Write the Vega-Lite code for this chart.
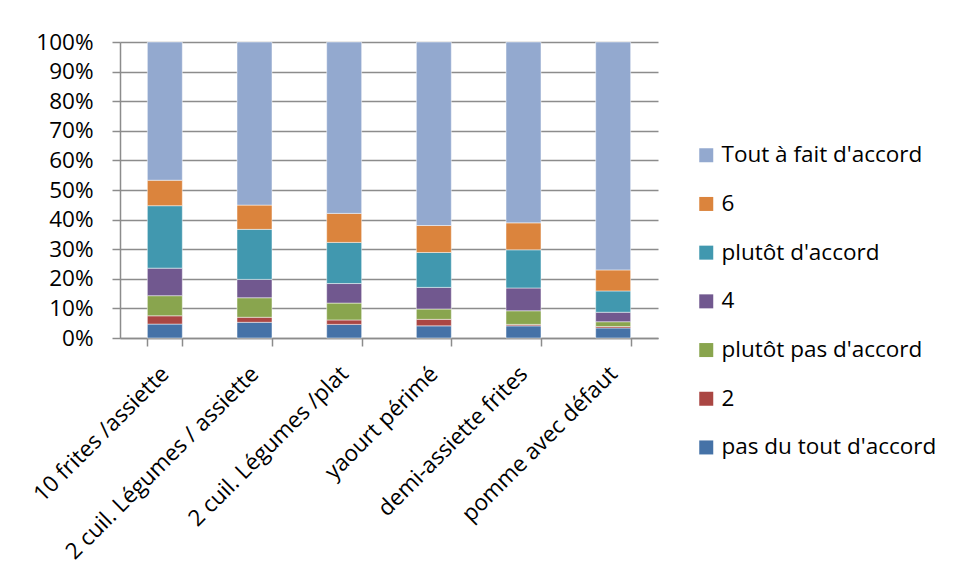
{
  "$schema": "https://vega.github.io/schema/vega-lite/v6.json",
  "autosize": "none",
  "width": 538,
  "height": 296,
  "padding": {"left": 120, "top": 42, "right": 299, "bottom": 243},
  "background": "#ffffff",
  "config": {
    "font": "Open Sans",
    "view": {"stroke": null},
    "axis": {
      "domainColor": "#8c8c8c",
      "domainWidth": 1.5,
      "tickColor": "#8c8c8c",
      "tickWidth": 1.5,
      "tickSize": 8,
      "labelColor": "#000000",
      "labelFontSize": 22.5,
      "labelOverlap": false,
      "labelFlush": false,
      "labelLimit": 400,
      "gridColor": "#8c8c8c",
      "gridWidth": 1.5
    }
  },
  "data": {
    "values": [
      {"item": "10 frites /assiette", "level": 1, "answer": "pas du tout d'accord", "pct": 4.7},
      {"item": "10 frites /assiette", "level": 2, "answer": "2", "pct": 2.8},
      {"item": "10 frites /assiette", "level": 3, "answer": "plutôt pas d'accord", "pct": 6.8},
      {"item": "10 frites /assiette", "level": 4, "answer": "4", "pct": 9.3},
      {"item": "10 frites /assiette", "level": 5, "answer": "plutôt d'accord", "pct": 21.1},
      {"item": "10 frites /assiette", "level": 6, "answer": "6", "pct": 8.6},
      {"item": "10 frites /assiette", "level": 7, "answer": "Tout à fait d'accord", "pct": 46.7},

      {"item": "2 cuil. Légumes / assiette", "level": 1, "answer": "pas du tout d'accord", "pct": 5.3},
      {"item": "2 cuil. Légumes / assiette", "level": 2, "answer": "2", "pct": 1.7},
      {"item": "2 cuil. Légumes / assiette", "level": 3, "answer": "plutôt pas d'accord", "pct": 6.6},
      {"item": "2 cuil. Légumes / assiette", "level": 4, "answer": "4", "pct": 6.2},
      {"item": "2 cuil. Légumes / assiette", "level": 5, "answer": "plutôt d'accord", "pct": 16.9},
      {"item": "2 cuil. Légumes / assiette", "level": 6, "answer": "6", "pct": 8.2},
      {"item": "2 cuil. Légumes / assiette", "level": 7, "answer": "Tout à fait d'accord", "pct": 55.1},

      {"item": "2 cuil. Légumes /plat", "level": 1, "answer": "pas du tout d'accord", "pct": 4.6},
      {"item": "2 cuil. Légumes /plat", "level": 2, "answer": "2", "pct": 1.5},
      {"item": "2 cuil. Légumes /plat", "level": 3, "answer": "plutôt pas d'accord", "pct": 5.7},
      {"item": "2 cuil. Légumes /plat", "level": 4, "answer": "4", "pct": 6.6},
      {"item": "2 cuil. Légumes /plat", "level": 5, "answer": "plutôt d'accord", "pct": 13.9},
      {"item": "2 cuil. Légumes /plat", "level": 6, "answer": "6", "pct": 9.8},
      {"item": "2 cuil. Légumes /plat", "level": 7, "answer": "Tout à fait d'accord", "pct": 57.9},

      {"item": "yaourt périmé", "level": 1, "answer": "pas du tout d'accord", "pct": 4.1},
      {"item": "yaourt périmé", "level": 2, "answer": "2", "pct": 2.2},
      {"item": "yaourt périmé", "level": 3, "answer": "plutôt pas d'accord", "pct": 3.5},
      {"item": "yaourt périmé", "level": 4, "answer": "4", "pct": 7.3},
      {"item": "yaourt périmé", "level": 5, "answer": "plutôt d'accord", "pct": 11.8},
      {"item": "yaourt périmé", "level": 6, "answer": "6", "pct": 9.1},
      {"item": "yaourt périmé", "level": 7, "answer": "Tout à fait d'accord", "pct": 62.0},

      {"item": "demi-assiette frites", "level": 1, "answer": "pas du tout d'accord", "pct": 4.1},
      {"item": "demi-assiette frites", "level": 2, "answer": "2", "pct": 0.5},
      {"item": "demi-assiette frites", "level": 3, "answer": "plutôt pas d'accord", "pct": 4.6},
      {"item": "demi-assiette frites", "level": 4, "answer": "4", "pct": 7.7},
      {"item": "demi-assiette frites", "level": 5, "answer": "plutôt d'accord", "pct": 12.9},
      {"item": "demi-assiette frites", "level": 6, "answer": "6", "pct": 9.1},
      {"item": "demi-assiette frites", "level": 7, "answer": "Tout à fait d'accord", "pct": 61.1},

      {"item": "pomme avec défaut", "level": 1, "answer": "pas du tout d'accord", "pct": 3.4},
      {"item": "pomme avec défaut", "level": 2, "answer": "2", "pct": 0.5},
      {"item": "pomme avec défaut", "level": 3, "answer": "plutôt pas d'accord", "pct": 1.6},
      {"item": "pomme avec défaut", "level": 4, "answer": "4", "pct": 3.2},
      {"item": "pomme avec défaut", "level": 5, "answer": "plutôt d'accord", "pct": 7.2},
      {"item": "pomme avec défaut", "level": 6, "answer": "6", "pct": 7.1},
      {"item": "pomme avec défaut", "level": 7, "answer": "Tout à fait d'accord", "pct": 77.0}
    ]
  },
  "mark": {"type": "bar", "stroke": "#ffffff", "strokeWidth": 0.8, "strokeOpacity": 0.6},
  "encoding": {
    "x": {
      "field": "item",
      "type": "nominal",
      "sort": null,
      "title": null,
      "scale": {"paddingInner": 0.61, "paddingOuter": 0.305},
      "axis": {
        "labelAngle": -45,
        "labelAlign": "right",
        "labelBaseline": "middle",
        "labelPadding": 24,
        "tickBand": "extent",
        "grid": false
      }
    },
    "y": {
      "field": "pct",
      "type": "quantitative",
      "stack": "normalize",
      "title": null,
      "axis": {
        "format": ".0%",
        "values": [0, 0.1, 0.2, 0.3, 0.4, 0.5, 0.6, 0.7, 0.8, 0.9, 1],
        "labelPadding": 19,
        "grid": true
      }
    },
    "color": {
      "field": "answer",
      "type": "nominal",
      "title": null,
      "scale": {
        "domain": ["Tout à fait d'accord", "6", "plutôt d'accord", "4", "plutôt pas d'accord", "2", "pas du tout d'accord"],
        "range": ["#93a9cf", "#db843d", "#4198af", "#71588f", "#89a54e", "#aa4643", "#4572a7"]
      },
      "legend": {
        "orient": "none",
        "legendX": 575,
        "legendY": 102,
        "symbolType": "square",
        "symbolSize": 196,
        "symbolStrokeWidth": 0,
        "labelFontSize": 22.5,
        "labelColor": "#000000",
        "labelOffset": 4,
        "rowPadding": 25.7,
        "labelLimit": 400
      }
    },
    "order": {"field": "level", "type": "quantitative", "sort": "ascending"}
  }
}
